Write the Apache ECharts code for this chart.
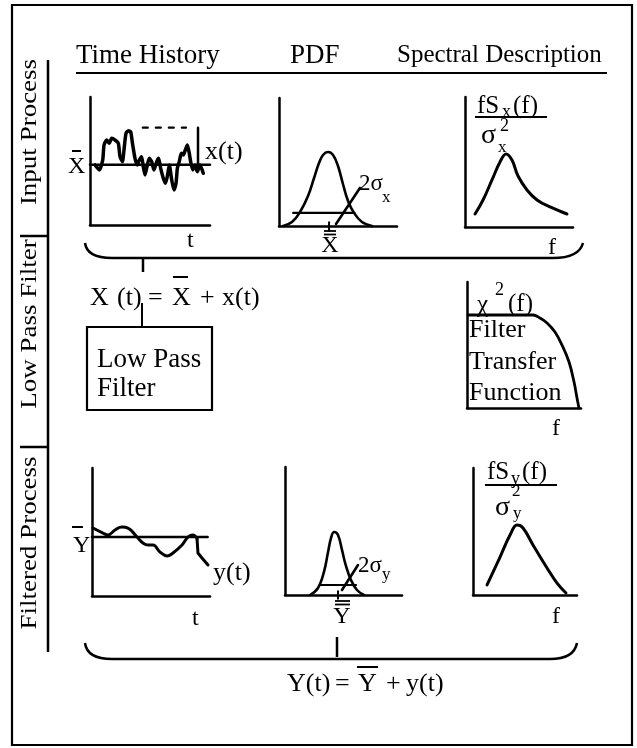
<!DOCTYPE html>
<html><head><meta charset="utf-8">
<script src="https://cdn.jsdelivr.net/npm/echarts@6/dist/echarts.min.js"></script>
<style>html,body{margin:0;padding:0;background:#fff}#c{width:637px;height:748px}</style>
</head><body><div id="c"></div>
<script>
// ---- data (each panel on a 0..100 scale) ----
const inputSignal = [[4.2,46.9],[7.8,43],[10.6,50.8],[11.7,62.5],[13.9,66.4],[16.1,63.8],[18,67.7],[20.8,66.4],[23.6,63.8],[25,53.4],[27,49.5],[28.6,61.2],[30,71.6],[32,73.7],[33.9,72.9],[35.6,62.5],[37.5,52.1],[39.4,46.9],[41.1,50.8],[43,53.4],[44.4,45.6],[45.8,39.1],[47.8,46.9],[49.4,52.1],[51.4,49.5],[53.3,43],[55.6,49.5],[57.2,52.1],[58.9,44.3],[61.1,36.5],[62.8,32.6],[64.4,37.8],[66.1,46.9],[68.1,35.2],[70,27.3],[71.7,32.6],[72.8,44.3],[74.4,49.5],[76.1,56],[77.8,54.7],[79.4,58.6],[81.1,62.5],[82.5,57.3],[83.9,49.5],[85.6,43],[87.5,46.9],[89.4,41.6],[91.7,46.9],[94.4,40.4]];
const inputMean = [[0,47],[100,47]];
const inputPeakLevel = [[44,76],[80,76]];
const inputAmplitudeTick = [[90,76],[90,45]];

const inputPdf = [[3.4,0],[11,3.1],[17.8,10.9],[24.6,23.4],[29.7,37.5],[33.9,49.2],[37.3,55.5],[41.5,57.8],[45.8,55.5],[50,46.9],[54.2,32.8],[58.5,19.5],[63.6,10.2],[70.3,3.1],[78.8,0]];
const inputPdfWidth = [[12,10.2],[64,10.2]];
const inputPdfPointer = [[48.3,1.6],[68.6,29.7]];
const inputPdfMeanTick = [[42.4,-4],[42.4,3]];

const inputSpectrum = [[9.3,10],[16.7,20.8],[25,36.2],[32.4,50],[38,56.2],[43.5,51.5],[49.1,39.2],[57.4,28.5],[66.7,20.8],[78.7,15.4],[94.4,10]];

const filterGain = [[0.9,73.8],[57.9,73.8],[64,71.4],[70.2,67.5],[77.2,60.3],[83.3,50],[89.5,36.5],[93.9,20.6],[96.5,7.9],[98.2,0]];

const filteredSignal = [[0.8,53.1],[9.3,49.2],[13.6,47.7],[19.5,51.6],[25.4,53.9],[30.5,53.1],[38.1,46.1],[43.2,41.4],[47.5,39.8],[51.7,39.8],[57.6,34.4],[63.6,31.3],[68.6,33.6],[76.3,39.8],[81.4,46.1],[85.6,47.7],[89,44.8]];
const filteredTail = [[89,44.8],[89.8,33.6],[93.2,29.7],[98.3,24.2]];
const filteredMean = [[0,46.1],[98,46.1]];

const filteredPdf = [[21.4,0],[28.2,5.5],[33.3,18],[36.8,33.6],[39.3,44.5],[41.9,49.2],[45.3,46.9],[48.7,35.2],[52.1,22.7],[56.4,11.7],[61.5,3.9],[67.5,0]];
const filteredPdfWidth = [[29.9,7.8],[60.7,7.8]];
const filteredPdfPointer = [[48.7,3.9],[62.4,23.4]];
const filteredPdfMeanTick = [[45.3,-3],[45.3,3]];

const filteredSpectrum = [[13.5,7.9],[26,29.9],[35.6,47.2],[42.3,55.1],[48.1,52.8],[57.7,39.4],[71.2,21.3],[80.8,9.4],[89.4,1.6]];

// ---- layout ----
const FONT = "'Liberation Serif','Times New Roman',serif";
const panels = [
  {left:90, top:97, width:120, height:128},   // 0 input time history
  {left:279, top:98, width:118, height:128},  // 1 input pdf
  {left:465, top:97, width:108, height:130},  // 2 input spectrum
  {left:467, top:282, width:114, height:126}, // 3 filter
  {left:92, top:468, width:118, height:128},  // 4 filtered time history
  {left:285, top:467, width:117, height:128}, // 5 filtered pdf
  {left:473, top:468, width:104, height:127}  // 6 filtered spectrum
];
const axisStyle = {onZero:false, lineStyle:{color:'#000', width:2.5}};
const grid = panels.map(p => Object.assign({containLabel:false}, p));
const xAxis = panels.map((p,i) => ({gridIndex:i, type:'value', min:0, max:100, axisLine:axisStyle, axisTick:{show:false}, axisLabel:{show:false}, splitLine:{show:false}}));
const yAxis = panels.map((p,i) => ({gridIndex:i, type:'value', min:0, max:100, axisLine:axisStyle, axisTick:{show:false}, axisLabel:{show:false}, splitLine:{show:false}}));

function S(idx, data, opts){
  opts = opts || {};
  return {type:'line', xAxisIndex:idx, yAxisIndex:idx, data:data, symbol:'none', silent:true, clip:false,
    smooth: opts.smooth || false,
    lineStyle:{color:'#000', width: opts.width || 2.5, type: opts.type || 'solid', cap:'round', join:'round'}};
}
const series = [
  S(0, inputSignal, {smooth:0.2, width:3.5}),
  S(0, inputMean, {width:2.5}),
  S(0, inputPeakLevel, {width:2.2, type:[5,8]}),
  S(0, inputAmplitudeTick, {width:2.5}),
  S(1, inputPdf, {smooth:0.4, width:2.6}),
  S(1, inputPdfWidth, {width:2.2}),
  S(1, inputPdfPointer, {width:2.6}),
  S(1, inputPdfMeanTick, {width:2}),
  S(2, inputSpectrum, {smooth:0.4, width:3}),
  S(3, filterGain, {smooth:0.4, width:2.8}),
  S(4, filteredSignal, {smooth:0.45, width:3}),
  S(4, filteredTail, {width:3}),
  S(4, filteredMean, {width:2.5}),
  S(5, filteredPdf, {smooth:0.4, width:2.6}),
  S(5, filteredPdfWidth, {width:2.2}),
  S(5, filteredPdfPointer, {width:2.6}),
  S(5, filteredPdfMeanTick, {width:2}),
  S(6, filteredSpectrum, {smooth:0.4, width:3})
];

// ---- decoration and text ----
function T(text, x, y, size, extra){
  const st = Object.assign({text:text, fontSize:size, fontFamily:FONT, fill:'#000', align:'left', verticalAlign:'middle'}, extra||{});
  return {type:'text', x:x, y:y, style:st, silent:true};
}
function L(x1,y1,x2,y2,w){
  return {type:'line', shape:{x1:x1,y1:y1,x2:x2,y2:y2}, style:{stroke:'#000', lineWidth:w||2}, silent:true};
}
function C(x1,y1,cx,cy,x2,y2,w){
  return {type:'bezierCurve', shape:{x1:x1,y1:y1,x2:x2,y2:y2,cpx1:cx,cpy1:cy}, style:{stroke:'#000', fill:null, lineWidth:w||2.5}, silent:true};
}
function R(text, cx, cy, size){
  return {type:'text', x:cx, y:cy, rotation:Math.PI/2, scaleY:0.88, silent:true,
    style:{text:text, fontSize:size, fontFamily:FONT, fill:'#000', align:'center', verticalAlign:'middle'}};
}
const graphic = [
  {type:'rect', shape:{x:12, y:5, width:620, height:740}, style:{fill:null, stroke:'#000', lineWidth:2.2}, silent:true},
  // header
  T('Time History', 76, 56, 27),
  T('PDF', 290, 56, 27),
  T('Spectral Description', 397, 55, 25),
  L(76, 73, 607, 73, 2),
  // left strip
  R('Input Process', 30, 132, 27),
  R('Low Pass Filter', 30, 324, 27),
  R('Filtered Process', 30, 543, 27),
  L(48, 60, 48, 652, 2.5),
  L(20, 236, 48, 236, 2.5),
  L(20, 447, 48, 447, 2.5),
  // panel 1 labels
  T('X', 68, 167, 24),
  L(72, 151, 81, 151, 2),
  T('x(t)', 205, 152, 26),
  T('t', 187, 241, 24),
  // panel 2 labels
  T('2σ', 359, 184, 23),
  T('x', 382, 198, 17),
  T('X', 330, 246, 24, {align:'center'}),
  L(324, 231, 336, 231, 1.8),
  L(324, 234.5, 336, 234.5, 1.8),
  // panel 3 labels
  T('fS', 477, 106, 25),
  T('x', 502, 112, 18),
  T('(f)', 513, 106, 25),
  L(475, 117, 547, 117, 2.2),
  T('σ', 481, 136, 28),
  T('2', 500, 126, 18),
  T('x', 498, 148, 17),
  T('f', 548, 248, 24),
  // top brace
  C(85, 243, 87, 258, 112, 258),
  L(112, 258, 553, 258, 2.5),
  C(553, 258, 579, 258, 583, 243),
  L(143, 258, 143, 272, 2.5),
  // equation X(t)
  T('X', 90, 298, 26),
  T('(t)', 117, 298, 26),
  T('=', 148, 298, 26),
  T('X', 172, 298, 26),
  L(173, 277, 188, 277, 2),
  T('+', 200, 298, 26),
  T('x(t)', 222, 298, 26),
  L(142, 303, 142, 327, 2),
  // low pass filter box
  {type:'rect', shape:{x:87, y:327, width:125, height:83}, style:{fill:null, stroke:'#000', lineWidth:2.2}, silent:true},
  T('Low Pass', 97, 360, 27),
  T('Filter', 97, 389, 27),
  // filter panel labels
  T('χ', 477, 305, 25),
  T('2', 495, 290, 18),
  T('(f)', 508, 304, 25),
  T('Filter', 469, 330, 26),
  T('Transfer', 469, 362, 26),
  T('Function', 469, 393, 26),
  T('f', 552, 429, 24),
  // panel 5 labels
  T('Y', 73, 546, 24),
  L(72, 527, 83, 527, 2),
  T('y(t)', 213, 573, 26),
  T('t', 192, 619, 24),
  // panel 6 labels
  T('2σ', 358, 566, 23),
  T('y', 382, 575, 17),
  T('Y', 342, 617, 24, {align:'center'}),
  L(335, 601, 350, 601, 1.8),
  L(335, 604.5, 350, 604.5, 1.8),
  L(337, 637, 337, 657, 2.5),
  // panel 7 labels
  T('fS', 487, 472, 25),
  T('y', 511, 479, 18),
  T('(f)', 522, 472, 25),
  L(485, 485, 557, 485, 2.2),
  T('σ', 495, 508, 28),
  T('2', 512, 492, 17),
  T('y', 513, 514, 17),
  T('f', 552, 617, 24),
  // bottom brace
  C(85, 643, 87, 659, 112, 659),
  L(112, 659, 550, 659, 2.5),
  C(550, 659, 574, 659, 577, 643),
  // equation Y(t)
  T('Y(t)', 287, 684, 26),
  T('=', 335, 684, 26),
  T('Y', 358, 684, 26),
  L(357, 667, 378, 667, 2),
  T('+', 386, 684, 26),
  T('y(t)', 406, 684, 26)
];

const chart = echarts.init(document.getElementById('c'), null, {renderer:'canvas'});
chart.setOption({animation:false, backgroundColor:'#fff', grid:grid, xAxis:xAxis, yAxis:yAxis, series:series, graphic:graphic});
</script>
</body></html>
